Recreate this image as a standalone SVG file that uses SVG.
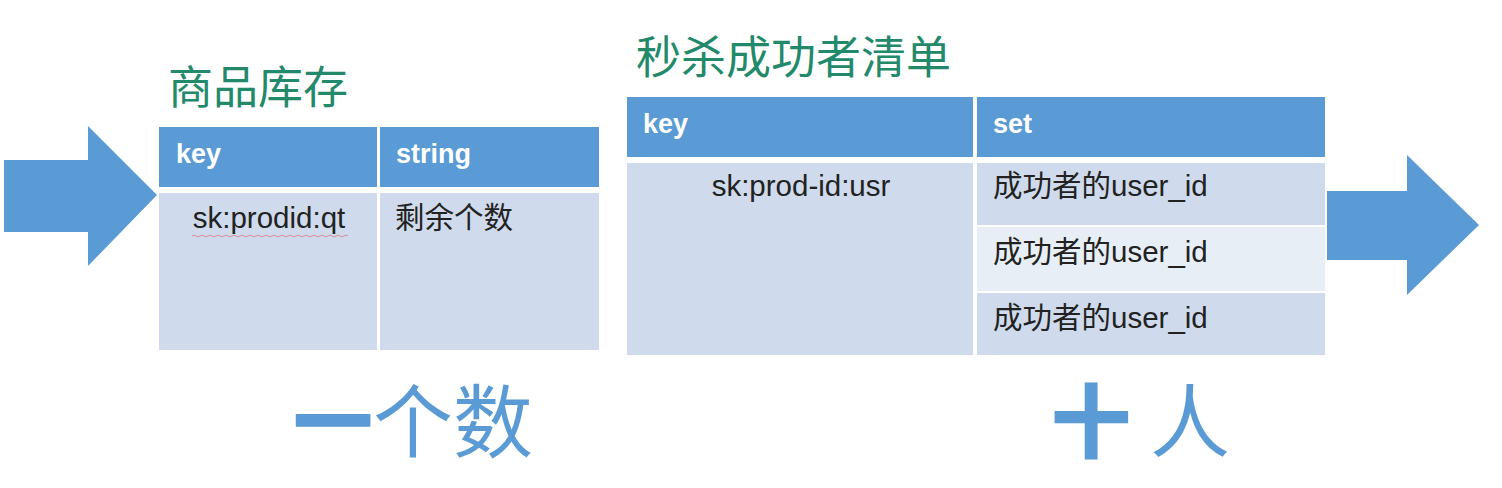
<svg xmlns="http://www.w3.org/2000/svg" width="1502" height="488" viewBox="0 0 1502 488">
<style>
.title{font-family:"Liberation Sans","Noto Sans CJK SC",sans-serif;font-size:45px;fill:#23896B}
.hd{fill:#5B9BD5}
.bd{fill:#CFDBEC}
.bd2{fill:#E8EEF6}
.ht{font-family:"Liberation Sans","Noto Sans CJK SC",sans-serif;font-size:27px;font-weight:bold;fill:#FFFFFF}
.ct{font-family:"Liberation Sans","Noto Sans CJK SC",sans-serif;font-size:29.5px;fill:#222222}
.big{font-family:"Noto Sans CJK SC",sans-serif;font-size:80px;fill:#5B9BD5}
.arrow{fill:#5B9BD5}
</style>
<rect width="1502" height="488" fill="#FFFFFF"/>
<g id="connectors">
  <polygon class="arrow" points="4,160 88,160 88,126 157,195 88,266 88,232 4,232"/>
  <polygon class="arrow" points="1327,191 1407,191 1407,155 1479,225 1407,295 1407,260 1327,260"/>
</g>
<g id="stock">
  <text class="title" x="168" y="104">商品库存</text>
  <rect class="hd" x="159" y="127" width="218" height="60"/>
  <rect class="hd" x="380" y="127" width="219" height="60"/>
  <rect class="bd" x="159" y="193" width="218" height="157"/>
  <rect class="bd" x="380" y="193" width="219" height="157"/>
  <text class="ht" x="176" y="163">key</text>
  <text class="ht" x="396" y="163">string</text>
  <text class="ct" x="269" y="228" text-anchor="middle">sk:prodid:qt</text>
  <path d="M192,236 q2,-2 4,0 t4,0 t4,0 t4,0 t4,0 t4,0 t4,0 t4,0 t4,0 t4,0 t4,0 t4,0 t4,0 t4,0 t4,0 t4,0 t4,0 t4,0 t4,0 t4,0 t4,0 t4,0 t4,0 t4,0 t4,0 t4,0 t4,0 t4,0 t4,0 t4,0 t4,0 t4,0 t4,0 t4,0 t4,0 t4,0 t4,0 t4,0 t4,0" fill="none" stroke="#D98A9A" stroke-width="1"/>
  <text class="ct" x="395" y="228">剩余个数</text>
</g>
<g id="winners">
  <text class="title" x="636" y="74">秒杀成功者清单</text>
  <rect class="hd" x="627" y="97" width="346" height="60"/>
  <rect class="hd" x="977" y="97" width="348" height="60"/>
  <rect class="bd" x="627" y="163" width="346" height="192"/>
  <rect class="bd" x="977" y="163" width="348" height="62"/>
  <rect class="bd2" x="977" y="227" width="348" height="64"/>
  <rect class="bd" x="977" y="293" width="348" height="62"/>
  <text class="ht" x="643" y="133">key</text>
  <text class="ht" x="993" y="133">set</text>
  <text class="ct" x="801" y="196" text-anchor="middle">sk:prod-id:usr</text>
  <text class="ct" x="993" y="196">成功者的user_id</text>
  <text class="ct" x="993" y="262">成功者的user_id</text>
  <text class="ct" x="993" y="328">成功者的user_id</text>
</g>
<g id="label-one">
  <text class="big" x="293" y="451"><tspan font-weight="900">一</tspan>个数</text>
</g>
<g id="label-ten">
  <text class="big" x="1051" y="451" font-weight="900">十</text>
  <text class="big" x="1150" y="451">人</text>
</g>
</svg>
